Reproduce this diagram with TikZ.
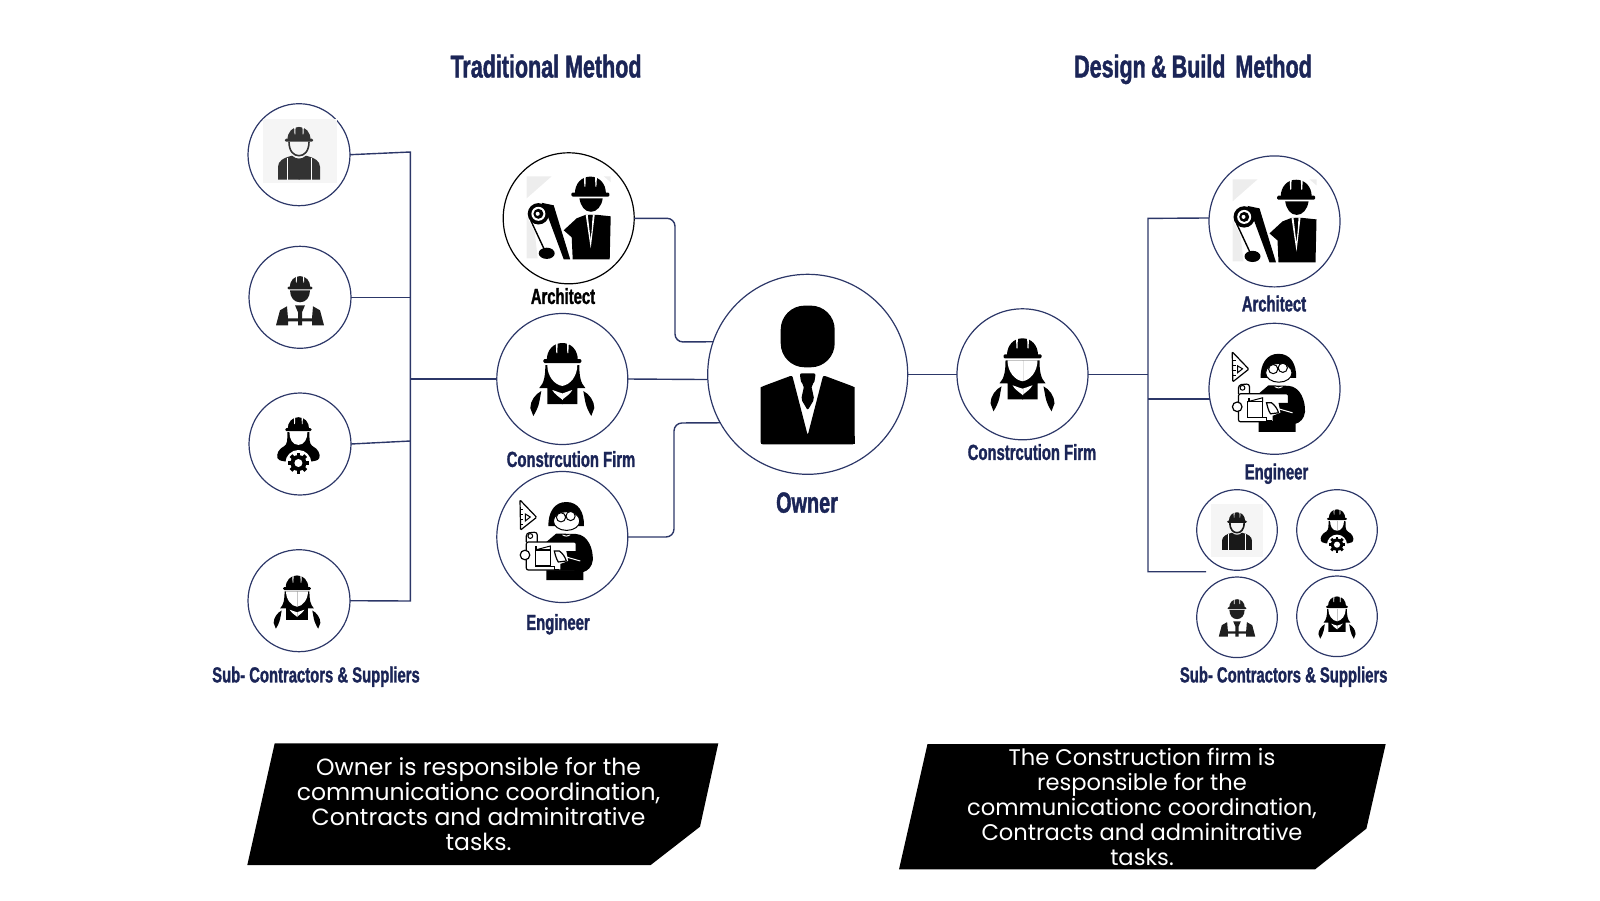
\documentclass[tikz,border=0pt]{standalone}
\usepackage{fontspec}
\usepackage{xcolor}
\usepackage{tikz}
\usetikzlibrary{positioning, calc}
\setmainfont{Poppins}
\newfontfamily\headfont[FakeStretch=.68,FakeBold=1.3]{Liberation Sans}
\definecolor{navy}{HTML}{1B2557}
\definecolor{wire}{HTML}{2C3768}
\colorlet{inkcol}{black}

\tikzset{
  ink/.code={\colorlet{inkcol}{#1}},
  % helmet, origin in the middle under the brim
  pics/hardhat/.style={code={
    \fill[inkcol, rounded corners=.6pt] (-19,0) rectangle (19,-4);
    \fill[inkcol] (-15.5,-3) .. controls (-15.5,-13) and (-9,-20) .. (0,-20) .. controls (9,-20) and (15.5,-13) .. (15.5,-3) -- cycle;
    \foreach \flip in {1,-1} \fill[white, xscale=\flip] (4.6,-21) -- (6.6,-21) -- (6,-10) -- (5,-10) -- cycle;
  }},
  pics/womanworker/.style={code={
    \pic[transform shape] at (0,-16) {hardhat};
    \foreach \flip in {1,-1} {
      \begin{scope}[xscale=\flip]
        \fill[inkcol] (-.5,-14) -- (17,-14) .. controls (17,-4) and (18,4) .. (23,9) -- (15,9) -- (15,25) -- (-.5,25) -- cycle;
        \fill[white] (-.5,-14) -- (15,-14) .. controls (15,-3) and (8,6) .. (-.5,7) -- cycle;
        \fill[white] (-.5,14.5) .. controls (3,14) and (6,12) .. (10,11) .. controls (8,15) and (3,18) .. (-.5,21) -- cycle;
        \fill[inkcol] (21,12) .. controls (27,15) and (32,22) .. (32,29) -- (29,37) .. controls (26.5,33) and (24,28) .. (23,23) -- cycle;
      \end{scope}
    }
  }},
  pics/gearworker/.style={code={
    \pic[transform shape, scale=.69] at (0,-13) {hardhat};
    \foreach \flip in {1,-1} {
      \begin{scope}[xscale=\flip]
        \fill[inkcol] (-.5,-12) -- (11,-12) .. controls (11,-4) and (11,0) .. (14,2) .. controls (20,5) and (22,10) .. (21,14) .. controls (20,17) and (14,18) .. (-.5,18) -- cycle;
        \fill[white] (-.5,-12) -- (9,-12) .. controls (9,-5) and (6,1) .. (-.5,1) -- cycle;
      \end{scope}
    }
    \begin{scope}[shift={(0,19)}]
      \fill[white] (0,0) circle (13);
      \fill[inkcol] (0,0) circle (8);
      \foreach \a in {0,45,...,315} \fill[inkcol, rotate=\a] (-1.9,-7) rectangle (1.9,-10.5);
      \fill[white] (0,0) circle (4);
    \end{scope}
  }},
  pics/vestworker/.style={code={
    \pic[transform shape, scale=.66] at (0,-8) {hardhat};
    \fill[inkcol] (-10,-7) -- (10,-7) .. controls (10,0) and (6,5) .. (0,5) .. controls (-6,5) and (-10,0) .. (-10,-7) -- cycle;
    \fill[inkcol] (-5,8) -- (5,8) -- (2,15) -- (2,28) -- (-2,28) -- (-2,15) -- cycle;
    \foreach \flip in {1,-1}
      \fill[inkcol, xscale=\flip] (-24,28) -- (-20,13) -- (-13,9) -- (-12,21) -- (0,21) -- (0,24) -- (-12,24) -- (-12,28) -- cycle;
  }},
  pics/plainworker/.style={code={
    \pic[transform shape, scale=.74] at (0,-13) {hardhat};
    \draw[inkcol, line width=.8pt] (-10,-13) .. controls (-10,-3) and (-5,1) .. (0,1) .. controls (5,1) and (10,-3) .. (10,-13);
    \foreach \flip in {1,-1} {
      \begin{scope}[xscale=\flip]
        \fill[inkcol] (-21,25) -- (-21,12) .. controls (-21,6) and (-15,3) .. (-7,1) .. controls (-5,3) and (-2,4) .. (.5,4) -- (.5,25) -- cycle;
        \draw[white, line width=.4pt] (-12,3) -- (-12,25);
      \end{scope}
    }
  }},
  pics/architect/.style={code={
    % pale scraps round the figure
    \fill[gray!14] (-42,-42) -- (-17,-42) -- (-42,-20) -- cycle;
    \fill[gray!14] (-42,-2) -- (-34,14) -- (-31,40) -- (-42,40) -- cycle;
    \fill[gray!14] (35,-42) -- (42,-42) -- (42,-36) -- cycle;
    \pic[transform shape] at (21.7,-21.7) {hardhat};
    \fill[inkcol] (10.7,-20) -- (34,-20) .. controls (33,-12) and (28,-6.5) .. (22.3,-6.5) .. controls (16,-6.5) and (12,-12) .. (10.7,-20) -- cycle;
    % jacket, tie and lapels
    \fill[inkcol] (-5,12) -- (8,0) -- (17,-3.5) -- (28,-3.5) -- (42,-2) -- (41,41) -- (4,41) -- (3,19) -- cycle;
    \fill[white] (17,-3.5) -- (19,-3.5) -- (22,22) -- (24,-3.5) -- (26,-3.5) -- (22,30) -- cycle;
    \fill[inkcol] (20.3,-3.5) -- (23.7,-3.5) -- (22.5,15) -- (21.5,15) -- cycle;
    % rolled drawing
    \fill[inkcol] (-15,-13) -- (-27,-15.5) -- (-22,-5) -- (-5,41) -- (1.5,41) -- cycle;
    \draw[inkcol, line width=.7pt] (-38,2) -- (-24,32);
    \fill[inkcol] (-30.3,-4.5) circle (10.7);
    \fill[white] (-30.3,-4.5) circle (7);
    \fill[inkcol] (-30.3,-4.5) circle (5);
    \fill[white] (-31,-4.5) circle (2);
    \fill[inkcol] (-22,35) ellipse (8 and 5.6);
  }},
  pics/engineer/.style={code={
    % set square
    \filldraw[fill=white, draw=inkcol, line width=.6pt, rounded corners=.5pt] (-42.3,-37) -- (-25.7,-19.7) -- (-41.7,-7) -- cycle;
    \draw[inkcol, line width=.5pt] (-37,-23) -- (-32,-20) -- (-37,-16) -- cycle;
    \foreach \y in {-28,-23,-18,-13} \draw[inkcol, line width=.4pt] (-41.5,\y) -- (-39,\y);
    % hair and face
    \fill[inkcol] (-14,-11) .. controls (-14,-25) and (-8,-35) .. (4,-35) .. controls (16,-35) and (22,-25) .. (21.7,-11) -- cycle;
    \filldraw[fill=white, draw=inkcol, line width=.5pt] (4.3,-16) ellipse (13.2 and 9.4);
    \filldraw[fill=white, draw=inkcol, line width=.5pt] (-1.3,-19.7) circle (4.6) (8.3,-21) circle (4.6);
    % body and sheet
    \fill[inkcol] (-6,-3.5) -- (14,-3) .. controls (26,-2) and (31,12) .. (30.5,23) .. controls (30,30) and (25,34) .. (21,35) -- (21,43) -- (-16,43) -- (-16,5) -- cycle;
    \fill[white] (0,-2.5) .. controls (3,-1) and (5,-1) .. (8,-2.5) -- (8,-1.8) .. controls (5,0) and (3,0) .. (0,-1.8) -- cycle;
    \filldraw[fill=white, draw=inkcol, line width=.6pt, rounded corners=1pt] (-36,5) rectangle (14,33);
    \draw[inkcol, line width=.6pt, rounded corners=1.5pt] (-36,5) -- (-36,-4) -- (-25,-5) -- (-25,5);
    \draw[inkcol, line width=.5pt] (-32,-1) circle (2.4);
    % plan on the sheet
    \draw[inkcol, line width=.6pt] (-27,13) rectangle (-12,29);
    \fill[inkcol] (-27,9) -- (-25,9) -- (-25,13) -- (-27,13) -- cycle;
    \draw[inkcol, line width=.5pt] (-27,13) -- (-12,9) -- (-12,13);
    \draw[inkcol, line width=.5pt] (-12,29) -- (-8,29) -- (-8,32) -- (-3,32);
    % hands
    \filldraw[fill=white, draw=inkcol, line width=.6pt] (-37.3,18) circle (4.8);
    \filldraw[fill=white, draw=inkcol, line width=.6pt] (-8,14) -- (-3,14) .. controls (0,16) and (3,20) .. (4,24) -- (-4,25) .. controls (-6,22) and (-7,18) .. (-8,14) -- cycle;
    \fill[inkcol] (4,14) -- (14,14) -- (14,33) -- (-2,33) -- (-2,27) -- (6,24) -- cycle;
    \draw[white, line width=.5pt] (4,20) -- (18,24);
  }},
  pics/suitman/.style={code={
    \fill[inkcol, rounded corners=12pt] (-27,-68.7) rectangle (27,-7);
    \fill[inkcol, rounded corners=1pt] (-47,70) -- (-47,15) .. controls (-47,13) and (-46,12.5) .. (-45,12) -- (-15.5,1) -- (0,61) -- (15.5,1) -- (45,12) .. controls (46,12.5) and (47,13) .. (47,15) -- (47,70) -- cycle;
    \fill[inkcol, rounded corners=1pt] (-8,-1) -- (8,-1) -- (6.5,9) -- (3.5,11) -- (6.5,25) -- (0,36) -- (-6.5,25) -- (-3.5,11) -- (-6.5,9) -- cycle;
    \fill[inkcol] (-47,70) rectangle (47,62);
  }}
}

\begin{document}
\begin{tikzpicture}[x=.5pt, y=-.5pt,
  person/.style={draw=wire, line width=.6pt, circle, inner sep=0pt, outer sep=0pt, minimum size=51pt},
  bigperson/.style={person, minimum size=65.5pt},
  smallperson/.style={person, minimum size=40.3pt},
  link/.style={draw=wire, line width=.7pt},
  heading/.style={font=\headfont\bfseries\fontsize{15.8pt}{18pt}\selectfont, text=navy, inner sep=0pt, text depth=0pt},
  caption/.style={font=\headfont\bfseries\fontsize{10.9pt}{12pt}\selectfont, text=navy, inner sep=0pt, text depth=0pt},
  plate/.style={fill=black},
  note/.style={text=white, align=center, inner sep=0pt, font=\fontsize{11.75pt}{12.4pt}\selectfont},
  backdrop/.style={fill=black!4}]
\useasboundingbox (0,0) rectangle (1600,900);

\node[heading] (titleA) at (546,66) {Traditional Method};
\node[heading] (titleB) at (1193,66) {Design\hspace{2.6pt}\&\hspace{2.6pt}Build\hspace{5pt}Method};

% traditional method
\node[person] (subA) at (299,154.7) {};
\node[person] (subB) at (300,297.3) {};
\node[person] (subC) at (300,444) {};
\node[person] (subD) at (299,600.7) {};
\node[bigperson, draw=black] (archA) at (568.7,218.3) {};
\node[bigperson] (firmA) at (562.3,379) {};
\node[bigperson] (engA) at (562.3,537) {};
\node[person, minimum size=100pt] (owner) at (807.7,374.3) {};

\coordinate (busTop) at (410.3,152);
\coordinate (busBot) at (410.3,601);
\coordinate (busMid) at (410.3,379);
\coordinate (bendA) at (675,342);
\coordinate (bendB) at (674,423);
\draw[link] (subA.east) -- (busTop) -- (busBot) -- (subD.east);
\draw[link] (subB.east) -- (busTop |- subB.east);
\draw[link] (subC.east) -- (busTop |- 0,441);
\draw[link] (busMid) -- (firmA.west);
\draw[link, rounded corners=4pt] (archA.east) -| (bendA) -- (owner.161);
\draw[link] (firmA.east) -- (owner.183);
\draw[link, rounded corners=4pt] (engA.east) -| (bendB) -- (owner.209);

% design and build method
\node[bigperson] (firmB) at (1022.5,374.3) {};
\node[bigperson] (archB) at (1274.5,221.4) {};
\node[bigperson] (engB) at (1274.5,388.8) {};
\node[smallperson] (smallA) at (1237,530) {};
\node[smallperson] (smallB) at (1337,530) {};
\node[smallperson] (smallC) at (1237,617.3) {};
\node[smallperson] (smallD) at (1337,616.3) {};

\coordinate (rightTop) at (1148,218.4);
\coordinate (rightBot) at (1148,571.7);
\coordinate (rightEnd) at (1206,571.7);
\draw[link] (owner.east) -- (firmB.west);
\draw[link] (firmB.east) -- (rightTop |- firmB.east);
\draw[link] (archB.177) -- (rightTop) -- (rightBot) -- (rightEnd);
\draw[link] (rightTop |- engB.189) -- (engB.189);

% icons
\fill[backdrop] (262.7,119.3) rectangle (336.7,183.3);
\fill[backdrop] (1211,504.3) rectangle (1263.3,556.7);
\pic[ink=black!80] at (subA) {plainworker};
\pic[ink=black!88] at (subB) {vestworker};
\pic[xshift=-.8pt] at (subC) {gearworker};
\pic[scale=.73] at ($(subD)+(-2,1)$) {womanworker};
\pic at (archA) {architect};
\pic at (firmA) {womanworker};
\pic at (engA) {engineer};
\pic at (owner) {suitman};
\pic at (firmB) {womanworker};
\pic at (archB) {architect};
\pic at (engB) {engineer};
\pic[scale=.71, ink=black!90] at ($(smallA)+(0,2)$) {plainworker};
\pic[scale=.77] at (smallB) {gearworker};
\pic[scale=.76, ink=black!88] at ($(smallC)+(0,-2)$) {vestworker};
\pic[scale=.58] at ($(smallD)+(0,1)$) {womanworker};

% captions
\node[caption, text=black] (capArchA) at (563,296) {Architect};
\node[caption] (capFirmA) at (571,459) {Constrcution Firm};
\node[caption] (capEngA) at (558,622) {Engineer};
\node[caption] (capSubA) at (316,674.5) {Sub- Contractors \& Suppliers};
\node[heading, font=\headfont\bfseries\fontsize{14.6pt}{18pt}\selectfont] (capOwner) at (807,502.5) {Owner};
\node[caption] (capFirmB) at (1032,452) {Constrcution Firm};
\node[caption] (capArchB) at (1274,303.5) {Architect};
\node[caption] (capEngB) at (1276.5,471.5) {Engineer};
\node[caption] (capSubB) at (1283.7,674.5) {Sub- Contractors \& Suppliers};

% black plates with their notes
\fill[plate] (274.7,743.3) -- (718.3,743.3) -- (700,826.7) -- (650.7,865) -- (247.3,865) -- cycle;
\fill[plate] (927.5,744) -- (1385.7,744) -- (1366.4,828.6) -- (1315,869.4) -- (899,869.4) -- cycle;
\node[note] (noteA) at (478.6,804) {Owner is responsible for the\\communicationc coordination,\\Contracts and adminitrative\\tasks.};
\node[note, font=\fontsize{11.3pt}{12.4pt}\selectfont] (noteB) at (1142,807) {The Construction firm is\\responsible for the\\communicationc coordination,\\Contracts and adminitrative\\tasks.};
\end{tikzpicture}
\end{document}
